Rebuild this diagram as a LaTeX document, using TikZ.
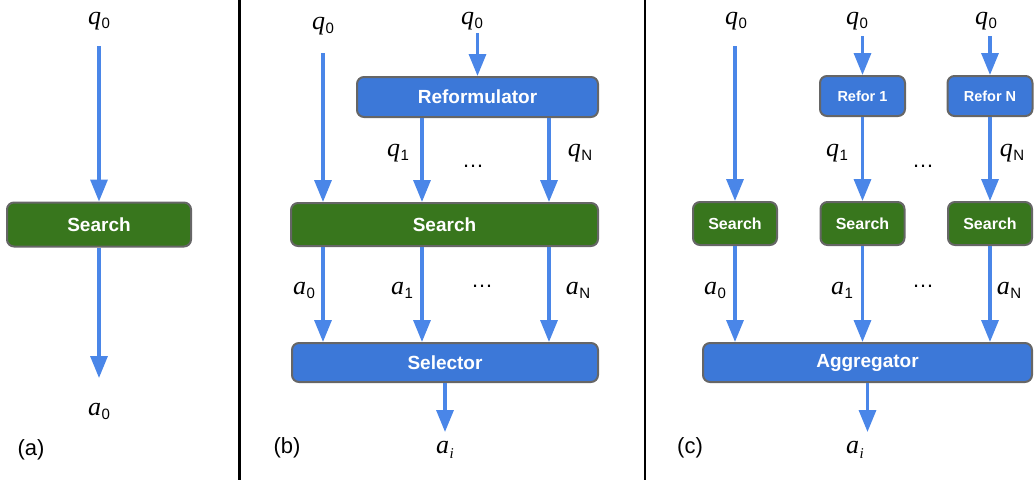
\documentclass[tikz,border=0pt]{standalone}
\usepackage{fontspec}
\setmainfont{Liberation Serif}
\setsansfont{Liberation Sans}
\usetikzlibrary{arrows.meta}
\definecolor{gfill}{HTML}{38761D}
\definecolor{bfill}{HTML}{3C78D8}
\definecolor{arrc}{HTML}{4A86E8}
\definecolor{bord}{HTML}{666666}
\newcommand\mlab[2]{{\fontsize{26}{26}\selectfont\textit{#1}}\kern0.5pt\raisebox{-4pt}{\sffamily\fontsize{15}{15}\selectfont #2}}
\newcommand\ailab{{\fontsize{26}{26}\selectfont\textit{a}}\kern0.5pt\raisebox{-5pt}{\fontsize{15}{15}\selectfont\textit{i}}}
\begin{document}
\begin{tikzpicture}[x=1pt,y=-1pt,
  box/.style={draw=bord, line width=2pt, rounded corners=7pt, text=white,
    font=\sffamily\bfseries\fontsize{19}{19}\selectfont, inner sep=0pt},
  gbox/.style={box, fill=gfill},
  bbox/.style={box, fill=bfill},
  smallg/.style={gbox, font=\sffamily\bfseries\fontsize{16}{16}\selectfont, minimum width=84pt, minimum height=43pt},
  smallb/.style={bbox, font=\sffamily\bfseries\fontsize{14.5}{14.5}\selectfont, minimum width=85pt, minimum height=40pt},
  arr/.style={draw=arrc, line width=3.3pt, -{Triangle[width=17pt,length=22pt]}},
  lab/.style={inner sep=0pt, text=black},
  dots/.style={inner sep=0pt, font=\sffamily\fontsize{22}{22}\selectfont},
  plab/.style={inner sep=0pt, font=\sffamily\fontsize{22}{22}\selectfont},
  divider/.style={draw=black, line width=2.5pt}
  ]
\useasboundingbox (0,0) rectangle (1034,480);

% ---------- (a)
\node[lab] (qa) at (99,21) {\mlab{q}{0}};
\node[gbox, minimum width=184pt, minimum height=44pt] (sa) at (99,224.5) {Search};
\node[lab] (aa) at (99,411) {\mlab{a}{0}};
\node[plab] (la) at (31,450) {(a)};
\draw[arr, shorten <=25pt] (qa.center) -- (sa);
\draw[arr, shorten >=33pt] (sa) -- (aa.center);

\coordinate (d1t) at (239.5,0);
\coordinate (d1b) at (239.5,480);
\draw[divider] (d1t) -- (d1b);

% ---------- (b)
\coordinate (b0) at (323,0);
\coordinate (b1) at (422,0);
\coordinate (b2) at (549,0);
\node[lab] (qb0) at (323,26) {\mlab{q}{0}};
\node[lab] (qb1) at (472,21) {\mlab{q}{0}};
\node[bbox, minimum width=241pt, minimum height=40pt] (ref) at (477.5,97) {Reformulator};
\node[gbox, minimum width=307pt, minimum height=43pt] (sb) at (444.5,224.5) {Search};
\node[bbox, minimum width=306pt, minimum height=39pt] (sel) at (445,362.5) {Selector};
\node[lab] (q1b) at (398,153) {\mlab{q}{1}};
\node[lab] (qNb) at (580,153) {\mlab{q}{N}};
\node[dots] (dqb) at (473,166) {\textellipsis};
\node[lab] (a0b) at (304,290) {\mlab{a}{0}};
\node[lab] (a1b) at (402,290) {\mlab{a}{1}};
\node[dots] (dab) at (482,286) {\textellipsis};
\node[lab] (aNb) at (578,290) {\mlab{a}{N}};
\node[lab] (aib) at (445,450) {\ailab};
\node[plab] (lb) at (287,448) {(b)};
\coordinate (qb1s) at (477.5,33);

\draw[arr, shorten <=27pt] (qb0.center) -- (sb.north -| b0);
\draw[arr] (qb1s) -- (ref);
\draw[arr] (ref.south -| b1) -- (sb.north -| b1);
\draw[arr] (ref.south -| b2) -- (sb.north -| b2);
\draw[arr] (sb.south -| b0) -- (sel.north -| b0);
\draw[arr] (sb.south -| b1) -- (sel.north -| b1);
\draw[arr] (sb.south -| b2) -- (sel.north -| b2);
\draw[arr, shorten >=18pt] (sel) -- (aib.center);

\coordinate (d2t) at (645,0);
\coordinate (d2b) at (645,480);
\draw[divider] (d2t) -- (d2b);

% ---------- (c)
\node[lab] (qc0) at (736,21) {\mlab{q}{0}};
\node[lab] (qc1) at (857,21) {\mlab{q}{0}};
\node[lab] (qc2) at (986,21) {\mlab{q}{0}};
\node[smallb] (r1) at (862.5,96) {Refor 1};
\node[smallb] (rN) at (990,96) {Refor N};
\node[smallg] (sc0) at (735,223.5) {Search};
\node[smallg] (sc1) at (862.5,223.5) {Search};
\node[smallg] (sc2) at (990,223.5) {Search};
\node[bbox, minimum width=329pt, minimum height=39pt] (agg) at (867.5,362.5) {Aggregator};
\node[lab] (q1c) at (837,153) {\mlab{q}{1}};
\node[lab] (qNc) at (1012,153) {\mlab{q}{N}};
\node[dots] (dqc) at (923,166) {\textellipsis};
\node[lab] (a0c) at (715,290) {\mlab{a}{0}};
\node[lab] (a1c) at (842,290) {\mlab{a}{1}};
\node[dots] (dac) at (923,286) {\textellipsis};
\node[lab] (aNc) at (1009,290) {\mlab{a}{N}};
\node[lab] (aic) at (855,450) {\ailab};
\node[plab] (lc) at (690,448) {(c)};
\coordinate (c0s) at (735,46);
\coordinate (c1s) at (862.5,36);
\coordinate (c2s) at (990,36);
\coordinate (aics) at (867.5,432);

\draw[arr] (c0s) -- (sc0);
\draw[arr] (c1s) -- (r1);
\draw[arr] (c2s) -- (rN);
\draw[arr] (r1) -- (sc1);
\draw[arr] (rN) -- (sc2);
\draw[arr] (sc0.south) -- (agg.north -| sc0.south);
\draw[arr] (sc1.south) -- (agg.north -| sc1.south);
\draw[arr] (sc2.south) -- (agg.north -| sc2.south);
\draw[arr] (agg) -- (aics);
\end{tikzpicture}
\end{document}
